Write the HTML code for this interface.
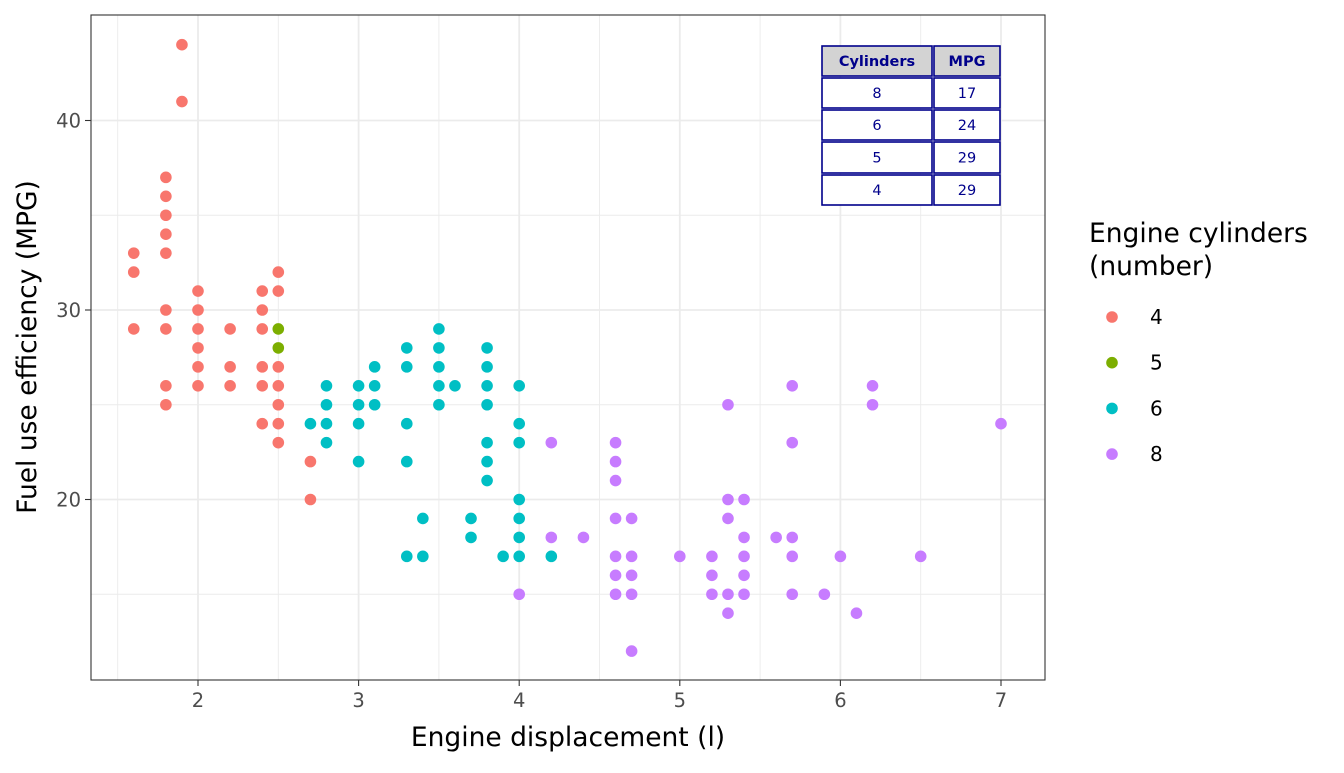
<!DOCTYPE html>
<html><head><meta charset="utf-8"><style>
body{margin:0;background:#fff;font-family:"Liberation Sans","DejaVu Sans",sans-serif;}
svg text{font-family:"DejaVu Sans","Liberation Sans",sans-serif;}
</style></head><body>
<svg id="chart" width="1344" height="768" xmlns="http://www.w3.org/2000/svg">
<rect width="1344" height="768" fill="#fff"/>
<g id="grid"></g>
<g id="pts"></g>
<rect x="91" y="15" width="954" height="665" fill="none" stroke="#333" stroke-width="1.1"/>
<g id="axes"></g>
<text x="568" y="746" font-size="26.5" text-anchor="middle" fill="#000">Engine displacement (l)</text>
<text transform="translate(36,347) rotate(-90)" font-size="26.5" text-anchor="middle" fill="#000">Fuel use efficiency (MPG)</text>
<g id="table"></g>
<g>
<text x="1089" y="242" font-size="26.5" fill="#000">Engine cylinders</text>
<text x="1089" y="275" font-size="26.5" fill="#000">(number)</text>
<g id="legend"></g>
</g>
</svg>
<script>
const categories=[4,5,6,8];
const colors=["#F8766D","#7CAE00","#00BFC4","#C77CFF"];
const cyl4=[[1.6,33],[1.6,32],[1.6,29],[1.8,37],[1.8,36],[1.8,35],[1.8,34],[1.8,33],[1.8,30],[1.8,29],[1.8,26],[1.8,25],[1.9,44],[1.9,41],[2.0,31],[2.0,30],[2.0,29],[2.0,28],[2.0,27],[2.0,26],[2.2,29],[2.2,27],[2.2,26],[2.4,31],[2.4,30],[2.4,29],[2.4,27],[2.4,26],[2.4,24],[2.5,32],[2.5,31],[2.5,27],[2.5,26],[2.5,25],[2.5,24],[2.5,23],[2.7,22],[2.7,20]];
const cyl5=[[2.5,29],[2.5,28]];
const cyl6=[[2.7,24],[2.8,26],[2.8,25],[2.8,24],[2.8,23],[3.0,26],[3.0,25],[3.0,24],[3.0,22],[3.1,27],[3.1,26],[3.1,25],[3.3,28],[3.3,27],[3.3,24],[3.3,22],[3.3,17],[3.4,19],[3.4,17],[3.5,29],[3.5,28],[3.5,27],[3.5,26],[3.5,25],[3.6,26],[3.7,19],[3.7,18],[3.8,28],[3.8,27],[3.8,26],[3.8,25],[3.8,23],[3.8,22],[3.8,21],[3.9,17],[4.0,26],[4.0,24],[4.0,23],[4.0,20],[4.0,19],[4.0,18],[4.0,17],[4.2,17]];
const cyl8=[[4.0,15],[4.2,23],[4.2,18],[4.4,18],[4.6,23],[4.6,22],[4.6,21],[4.6,19],[4.6,17],[4.6,16],[4.6,15],[4.7,19],[4.7,17],[4.7,16],[4.7,15],[4.7,12],[5.0,17],[5.2,17],[5.2,16],[5.2,15],[5.3,25],[5.3,20],[5.3,19],[5.3,15],[5.3,14],[5.4,20],[5.4,18],[5.4,17],[5.4,16],[5.4,15],[5.6,18],[5.7,26],[5.7,23],[5.7,18],[5.7,17],[5.7,15],[5.9,15],[6.0,17],[6.1,14],[6.2,26],[6.2,25],[6.5,17],[7.0,24]];
const xTicks=[2,3,4,5,6,7];
const yTicks=[20,30,40];
const tableCyl=["8","6","5","4"];
const tableMpg=["17","24","29","29"];
const NS="http://www.w3.org/2000/svg";
const X=v=>198+(v-2)*160.6;
const Y=v=>310-(v-30)*18.95;
function mk(tag,attrs,parent){const e=document.createElementNS(NS,tag);for(const k in attrs)e.setAttribute(k,attrs[k]);parent.appendChild(e);return e;}
const grid=document.getElementById('grid');
for(let v=1.5;v<=7.01;v+=0.5){const l=mk('line',{x1:X(v),x2:X(v),y1:15,y2:680,stroke:'#ebebeb','stroke-width':(v%1===0)?1.8:0.9},grid);

}
for(let v=15;v<=40;v+=5){const l=mk('line',{x1:91,x2:1045,y1:Y(v),y2:Y(v),stroke:'#ebebeb','stroke-width':(v%10===0)?1.8:0.9},grid);

}
const axes=document.getElementById('axes');
xTicks.forEach(t=>{mk('line',{x1:X(t),x2:X(t),y1:680,y2:686,stroke:'#333','stroke-width':1.1},axes);
const tx=mk('text',{x:X(t),y:707,'font-size':19.5,'text-anchor':'middle',fill:'#4d4d4d'},axes);tx.textContent=t;

});
yTicks.forEach(t=>{mk('line',{x1:85,x2:91,y1:Y(t),y2:Y(t),stroke:'#333','stroke-width':1.1},axes);
const tx=mk('text',{x:81,y:Y(t)+7,'font-size':19.5,'text-anchor':'end',fill:'#4d4d4d'},axes);tx.textContent=t;

});
const pts=document.getElementById('pts');
[cyl4,cyl5,cyl6,cyl8].forEach((s,i)=>s.forEach(p=>{const c=mk('circle',{cx:X(p[0]),cy:Y(p[1]),r:5.8,fill:colors[i]},pts);

}));
const lg=document.getElementById('legend');
categories.forEach((c,i)=>{const y=317+i*45.7;
const ci=mk('circle',{cx:1112,cy:y,r:5.8,fill:colors[i]},lg);


const t=mk('text',{x:1150,y:y+7,'font-size':20,fill:'#000'},lg);t.textContent=c;

});
const tb=document.getElementById('table');
const cols=[[821,933],[933,1001]];
const hdr=["Cylinders","MPG"];
const rowY=[45,77,109,141,174,206];
for(let r=0;r<5;r++){for(let c=0;c<2;c++){
const x0=cols[c][0]+1,x1=cols[c][1]-1,y0=rowY[r]+1,y1=rowY[r+1]-1;
const rc=mk('rect',{x:x0,y:y0,width:x1-x0,height:y1-y0,fill:r===0?'#d3d3d3':'#fff',stroke:'#00008b','stroke-width':1.6},tb);


const txt=r===0?hdr[c]:(c===0?tableCyl[r-1]:tableMpg[r-1]);
const t=mk('text',{x:(x0+x1)/2,y:(y0+y1)/2+5,'font-size':14.5,'text-anchor':'middle',fill:'#00008b','font-weight':r===0?'bold':'normal'},tb);t.textContent=txt;

}}
</script>
</body></html>
